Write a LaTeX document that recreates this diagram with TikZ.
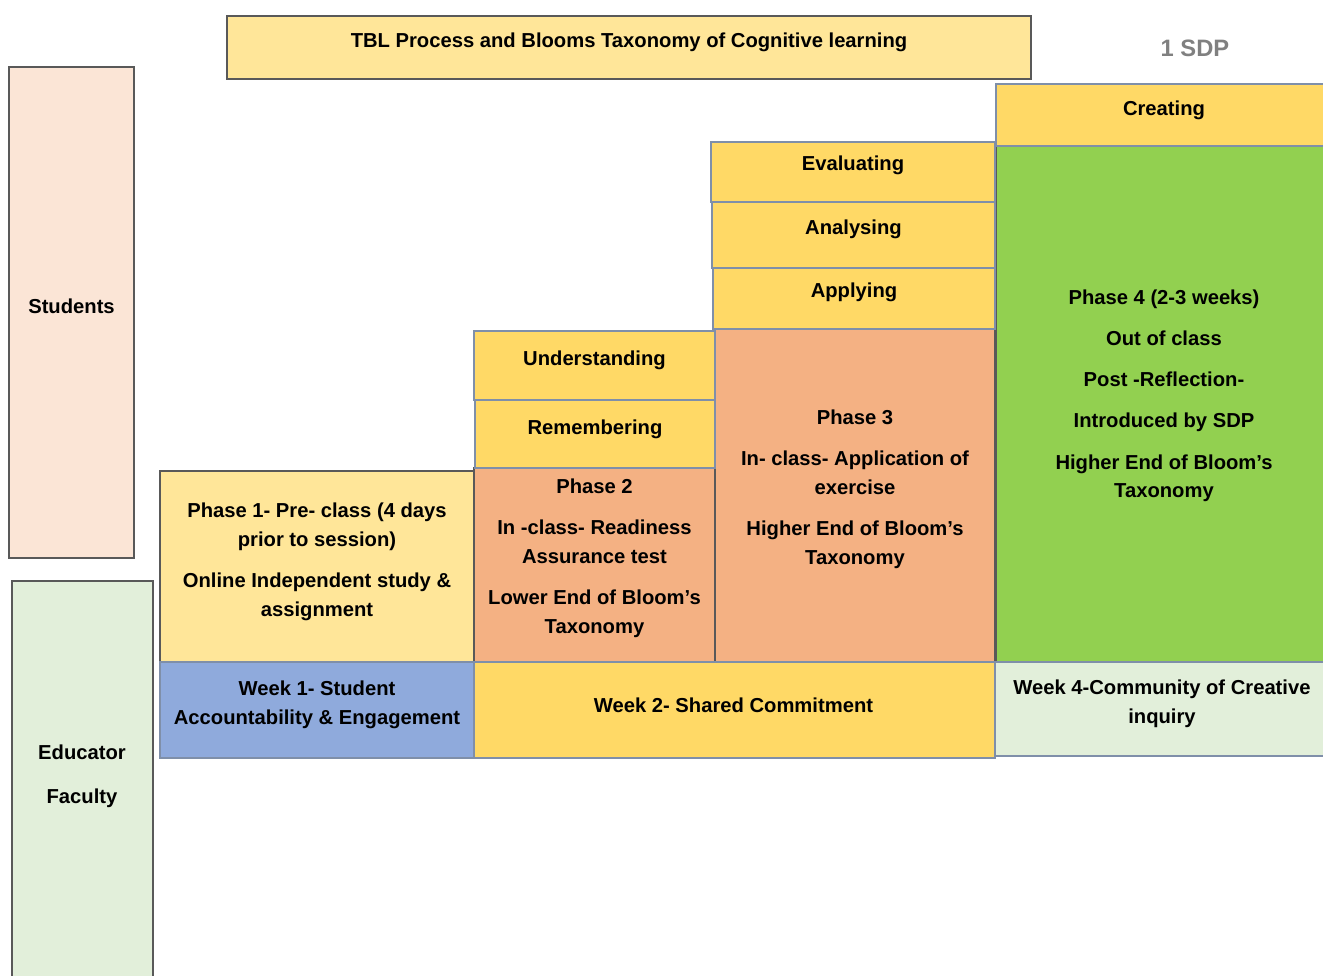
\documentclass[tikz,border=0pt]{standalone}
\usepackage{fontspec}
\setmainfont{Liberation Sans}
\usetikzlibrary{calc,positioning}

\definecolor{ltyellow}{HTML}{FFE699}
\definecolor{yellowbox}{HTML}{FFD966}
\definecolor{salmon}{HTML}{F4B183}
\definecolor{greenbox}{HTML}{92D050}
\definecolor{ltgreen}{HTML}{E2EFDA}
\definecolor{peach}{HTML}{FBE5D6}
\definecolor{bluebox}{HTML}{8FAADC}
\definecolor{darkline}{HTML}{595959}
\definecolor{blueline}{HTML}{7F8FA9}

\tikzset{
    box/.style={rectangle, draw=darkline, line width=0.8pt, inner sep=0pt},
    bbox/.style={box, draw=blueline},
    txt/.style={align=center, inner sep=0pt, font=\bfseries\fontsize{11.5}{16.4}\selectfont}
}

\begin{document}
\begin{tikzpicture}[x=0.02cm, y=-0.02cm]
                \useasboundingbox (0,0) rectangle (1323,976);

                % side boxes
                \node[box, fill=peach, minimum width=2.5cm, minimum height=9.82cm] at (71.5, 312.5) (stud) {};
                \node[box, fill=ltgreen, minimum width=2.82cm, minimum height=8.18cm] at (82.5, 785.5) (educ) {};

                % title
                \node[box, fill=ltyellow, minimum width=16.08cm, minimum height=1.26cm] at (629, 47.5) (title) {};

                % phases
                \node[box, fill=ltyellow, minimum width=6.28cm, minimum height=3.82cm] at (317, 566.5) (ph1) {};
                \node[box, fill=salmon, minimum width=4.82cm, minimum height=3.88cm] at (594.5, 565) (ph2) {};
                \node[box, fill=salmon, minimum width=5.6cm, minimum height=6.66cm] at (855, 495.5) (ph3) {};
                \node[box, fill=greenbox, minimum width=6.68cm, minimum height=10.32cm] at (1163, 404) (ph4) {};

                % bloom levels
                \node[bbox, fill=yellowbox, minimum width=4.8cm, minimum height=1.36cm] at (595, 434) (rem) {};
                \node[bbox, fill=yellowbox, minimum width=4.82cm, minimum height=1.38cm] at (594.5, 365.5) (und) {};
                \node[bbox, fill=yellowbox, minimum width=5.64cm, minimum height=1.22cm] at (854, 298.5) (app) {};
                \node[bbox, fill=yellowbox, minimum width=5.66cm, minimum height=1.32cm] at (853.5, 235) (ana) {};
                \node[bbox, fill=yellowbox, minimum width=5.68cm, minimum height=1.2cm] at (853, 172) (eva) {};
                \node[bbox, fill=yellowbox, minimum width=6.68cm, minimum height=1.24cm] at (1163, 115) (cre) {};

                % weeks
                \node[bbox, fill=bluebox, minimum width=6.28cm, minimum height=1.92cm] at (317, 710) (wk1) {};
                \node[bbox, fill=yellowbox, minimum width=10.42cm, minimum height=1.92cm] at (734.5, 710) (wk2) {};
                \node[bbox, fill=ltgreen, minimum width=6.7cm, minimum height=1.88cm] at (1162.5, 709) (wk4) {};

                % texts
                \node[txt] at ($(title.center)+(0,-5)$) (title-t) {TBL Process and Blooms Taxonomy of Cognitive learning};
                \node[txt, text=black!50, font=\bfseries\fontsize{13.5}{16}\selectfont] at (1195, 48) (sdp) {1 SDP};
                \node[txt] at ($(stud.center)+(0,-6)$) (stud-t) {Students};
                \node[txt, font=\bfseries\fontsize{11.5}{25}\selectfont] at (82, 776) (educ-t) {Educator\\Faculty};

                \node[txt] at ($(ph1.center)+(0,-5)$) (ph1-t) {Phase 1- Pre- class (4 days\\prior to session)\\[7pt]Online Independent study \&\\assignment};
                \node[txt] at ($(ph2.center)+(0,-7)$) (ph2-t) {Phase 2\\[7pt]In -class- Readiness\\Assurance test\\[7pt]Lower End of Bloom’s\\Taxonomy};
                \node[txt] at ($(ph3.center)+(0,-6.5)$) (ph3-t) {Phase 3\\[7pt]In- class- Application of\\exercise\\[7pt]Higher End of Bloom’s\\Taxonomy};
                \node[txt] at ($(ph4.center)+(1,-8)$) (ph4-t) {Phase 4 (2-3 weeks)\\[7pt]Out of class\\[7pt]Post -Reflection-\\[7pt]Introduced by SDP\\[7pt]Higher End of Bloom’s\\Taxonomy};

                \node[txt] at ($(rem.center)+(0,-4.5)$) (rem-t) {Remembering};
                \node[txt] at ($(und.center)+(0,-5)$) (und-t) {Understanding};
                \node[txt] at ($(app.center)+(0,-6)$) (app-t) {Applying};
                \node[txt] at ($(ana.center)+(0,-5.5)$) (ana-t) {Analysing};
                \node[txt] at ($(eva.center)+(0,-6.5)$) (eva-t) {Evaluating};
                \node[txt] at ($(cre.center)+(1,-4.5)$) (cre-t) {Creating};

                \node[txt] at ($(wk1.center)+(0,-5)$) (wk1-t) {Week 1- Student\\Accountability \& Engagement};
                \node[txt] at ($(wk2.center)+(-1,-4.5)$) (wk2-t) {Week 2- Shared Commitment};
                \node[txt] at ($(wk4.center)+(-0.5,-5)$) (wk4-t) {Week 4-Community of Creative\\inquiry};

            \end{tikzpicture}
\end{document}
